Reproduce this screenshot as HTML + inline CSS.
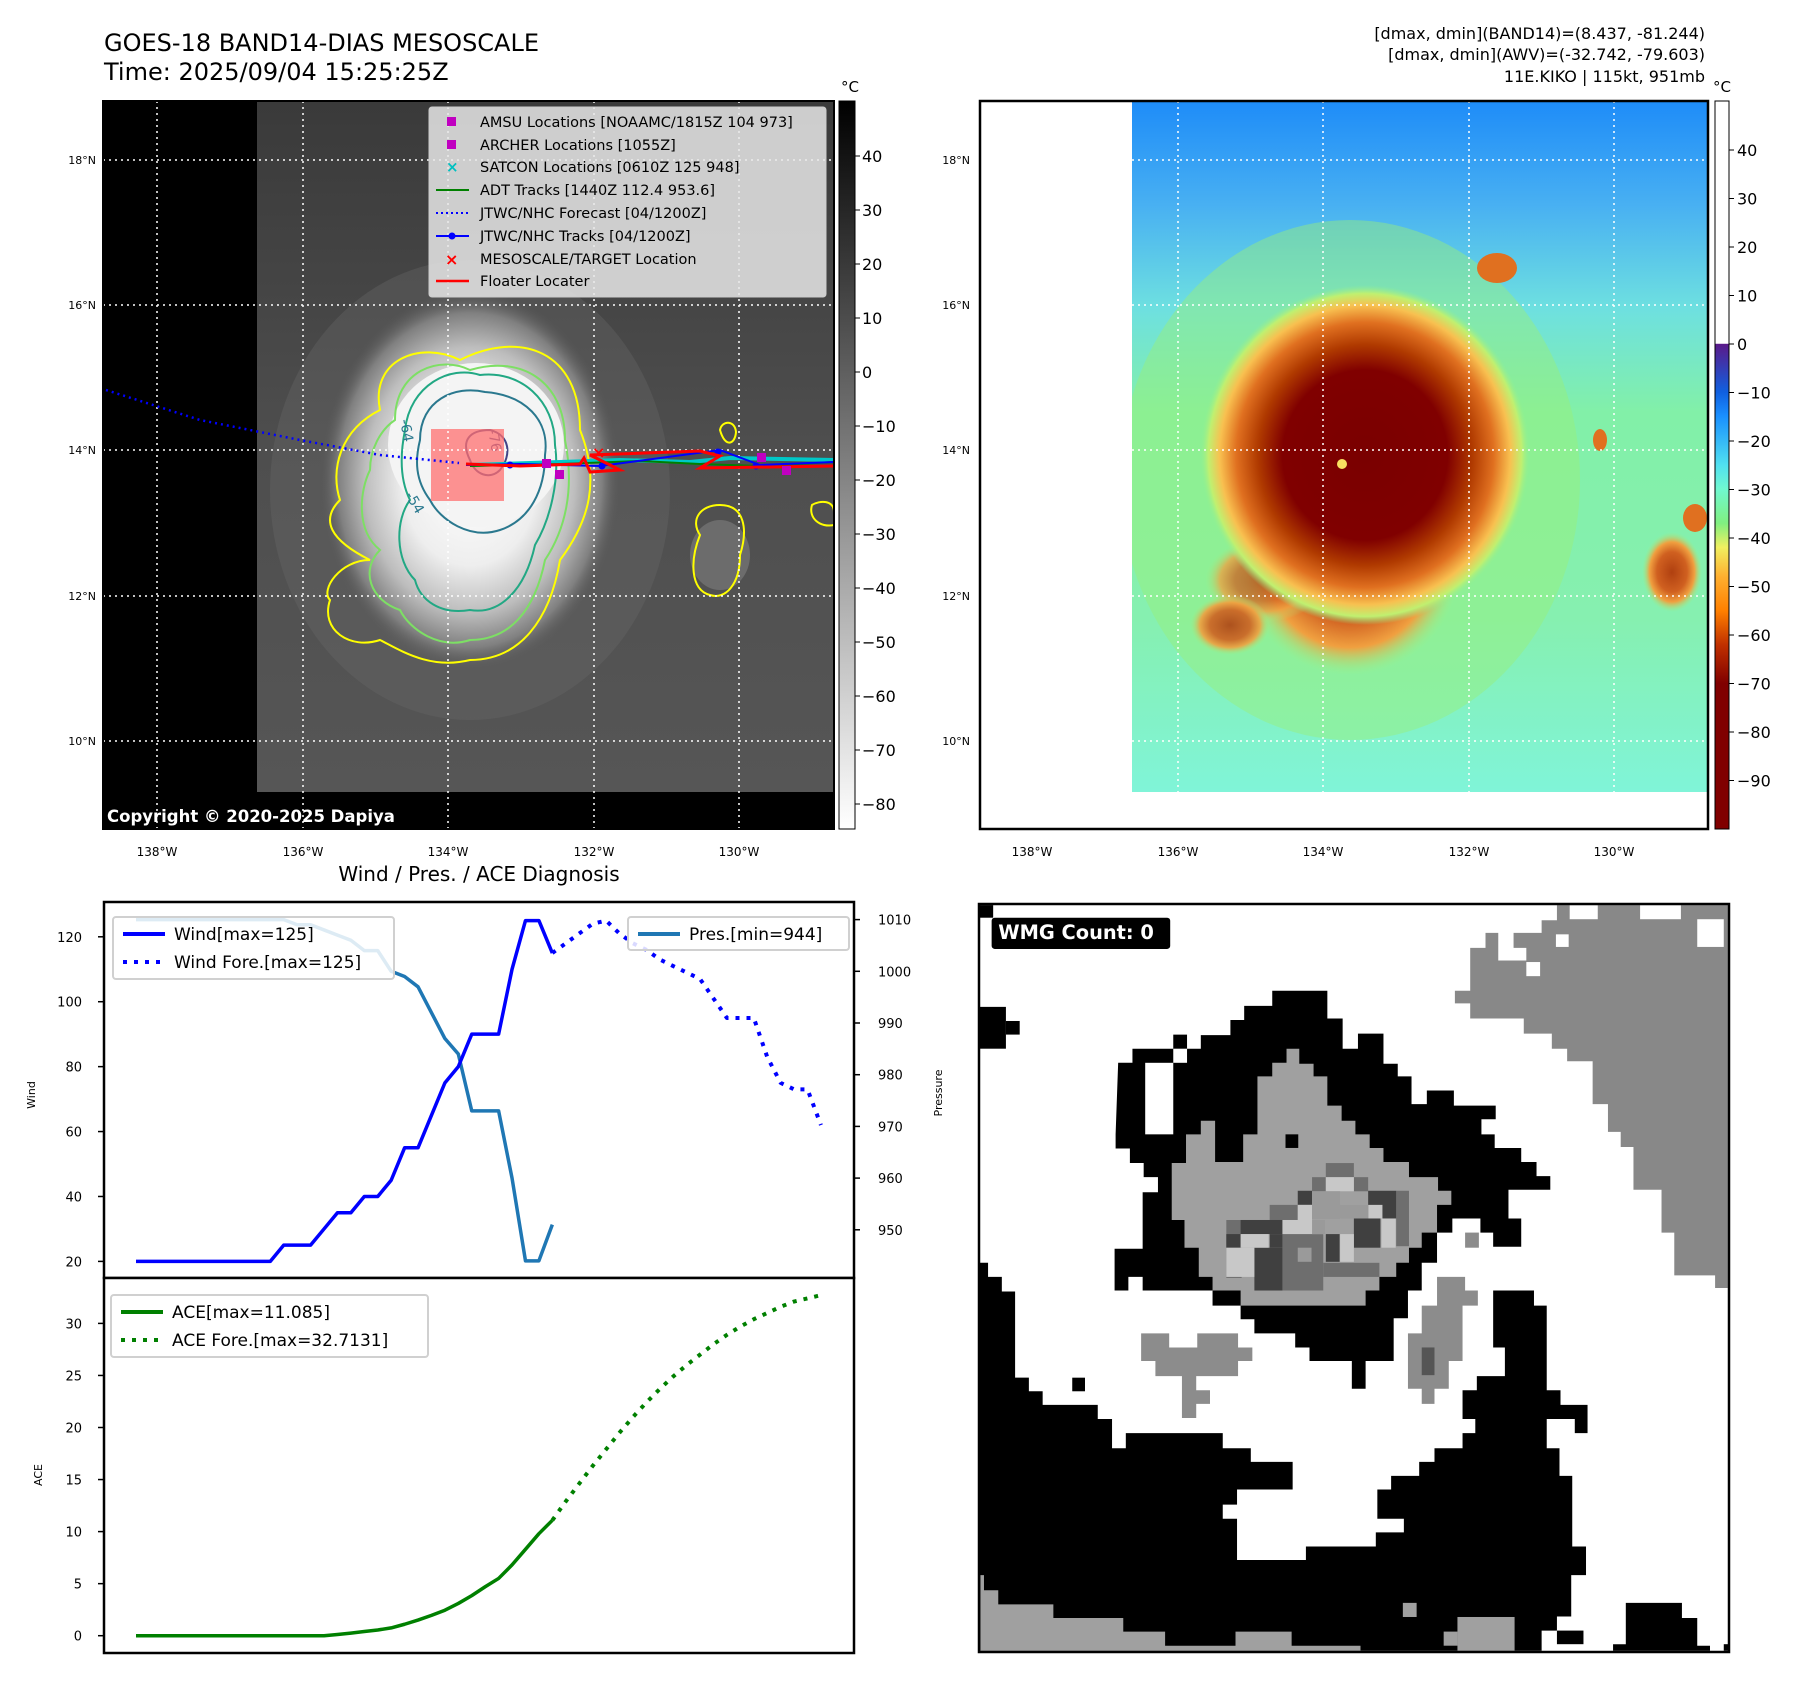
<!DOCTYPE html>
<html><head><meta charset="utf-8">
<style>
html,body{margin:0;padding:0;background:#fff;}
body{width:1797px;height:1690px;overflow:hidden;font-family:"Liberation Sans","DejaVu Sans",sans-serif;}
svg text{font-family:"DejaVu Sans","Liberation Sans",sans-serif;}
</style></head>
<body>
<svg id="page" width="1797" height="1690" viewBox="0 0 1797 1690" xmlns="http://www.w3.org/2000/svg">
<defs>
  <clipPath id="clipL"><rect x="257" y="101" width="577" height="691"/></clipPath>
  <clipPath id="clipR"><rect x="1132" y="101" width="576" height="691"/></clipPath>
  <radialGradient id="gcore" cx="0.5" cy="0.5" r="0.5">
    <stop offset="0" stop-color="#ffffff"/>
    <stop offset="0.45" stop-color="#eeeeee"/>
    <stop offset="0.7" stop-color="#bdbdbd"/>
    <stop offset="0.88" stop-color="#808080"/>
    <stop offset="1" stop-color="#5a5a5a" stop-opacity="0"/>
  </radialGradient>
  <linearGradient id="gbg" x1="0" y1="0" x2="0" y2="1">
    <stop offset="0" stop-color="#3a3a3a"/>
    <stop offset="0.5" stop-color="#4e4e4e"/>
    <stop offset="1" stop-color="#565656"/>
  </linearGradient>
  <linearGradient id="cbL" x1="0" y1="0" x2="0" y2="1">
    <stop offset="0" stop-color="#000"/><stop offset="1" stop-color="#fff"/>
  </linearGradient>
  <linearGradient id="cbR" x1="0" y1="0" x2="0" y2="1">
    <stop offset="0" stop-color="#fff"/><stop offset="0.333" stop-color="#fff"/>
    <stop offset="0.334" stop-color="#5a1a8a"/><stop offset="0.40" stop-color="#1060e0"/>
    <stop offset="0.433" stop-color="#1a90ff"/><stop offset="0.50" stop-color="#50e0f0"/>
    <stop offset="0.533" stop-color="#70f8d0"/><stop offset="0.58" stop-color="#80f080"/>
    <stop offset="0.613" stop-color="#f0f060"/><stop offset="0.653" stop-color="#ffb030"/>
    <stop offset="0.70" stop-color="#ff8000"/><stop offset="0.747" stop-color="#c03000"/>
    <stop offset="0.80" stop-color="#800000"/><stop offset="1" stop-color="#800000"/>
  </linearGradient>
  <linearGradient id="rbg" x1="0" y1="0" x2="0" y2="1">
    <stop offset="0" stop-color="#1e8cf8"/><stop offset="0.15" stop-color="#48b0f2"/>
    <stop offset="0.3" stop-color="#6ee0e0"/><stop offset="0.45" stop-color="#82f0a8"/>
    <stop offset="0.75" stop-color="#86f0b0"/><stop offset="1" stop-color="#80f4d8"/>
  </linearGradient>
  <radialGradient id="rcore" cx="0.5" cy="0.5" r="0.5">
    <stop offset="0" stop-color="#7a0000"/><stop offset="0.5" stop-color="#800000"/>
    <stop offset="0.65" stop-color="#b03a00"/><stop offset="0.78" stop-color="#e07020"/>
    <stop offset="0.88" stop-color="#f8c050"/><stop offset="0.95" stop-color="#c0f070"/>
    <stop offset="1" stop-color="#90f090" stop-opacity="0"/>
  </radialGradient>
  <radialGradient id="rtail" cx="0.5" cy="0.5" r="0.5">
    <stop offset="0" stop-color="#b04010"/><stop offset="0.5" stop-color="#d06020"/>
    <stop offset="0.75" stop-color="#f0a040"/><stop offset="1" stop-color="#a0f080" stop-opacity="0"/>
  </radialGradient>
</defs>

<text x="104" y="51" font-size="24">GOES-18 BAND14-DIAS MESOSCALE</text>
<text x="104" y="80" font-size="24">Time: 2025/09/04 15:25:25Z</text>
<g font-size="16" text-anchor="end">
  <text x="1705" y="39">[dmax, dmin](BAND14)=(8.437, -81.244)</text>
  <text x="1705" y="60">[dmax, dmin](AWV)=(-32.742, -79.603)</text>
  <text x="1705" y="82">11E.KIKO | 115kt, 951mb</text>
</g>

<!-- LEFT MAP -->
<g>
  <rect x="103" y="101" width="731" height="728" fill="#000"/>
  <rect x="257" y="101" width="577" height="691" fill="url(#gbg)"/>
  <g clip-path="url(#clipL)">
    <ellipse cx="470" cy="490" rx="200" ry="230" fill="#6a6a6a" opacity="0.35"/>
    <ellipse cx="470" cy="480" rx="150" ry="190" fill="url(#gcore)"/>
    <ellipse cx="476" cy="445" rx="88" ry="82" fill="#f4f4f4"/>
    <ellipse cx="720" cy="555" rx="30" ry="35" fill="#888" opacity="0.5"/>
  </g>
  <g fill="none" stroke-width="2">
    <path d="M380,410 C370,360 420,340 460,360 C520,330 580,350 580,430 C600,480 590,520 560,560 C550,620 520,660 470,660 C430,670 400,650 380,640 C350,650 320,630 330,600 C320,590 340,560 370,560 C330,540 320,520 340,500 C330,470 340,430 380,410 Z" stroke="#ffff00"/>
    <path d="M395,420 C395,370 440,355 470,370 C520,355 565,380 565,440 C575,490 565,530 545,560 C535,610 510,640 470,640 C440,650 410,630 400,610 C370,600 360,570 380,550 C355,530 360,490 370,470 C370,450 380,430 395,420 Z" stroke="#7ddf64"/>
    <path d="M405,430 C410,385 450,365 480,375 C520,370 555,400 555,445 C560,480 550,520 535,545 C525,590 500,615 470,610 C440,615 420,600 415,580 C395,560 395,520 410,500 C400,480 400,455 405,430 Z" stroke="#22a884"/>
    <path d="M420,440 C420,400 455,385 485,392 C525,395 550,420 545,455 C545,490 530,520 500,530 C470,540 440,520 430,500 C415,480 415,460 420,440 Z" stroke="#2a788e"/>
    <path d="M470,460 C460,440 470,430 490,430 C510,435 512,455 500,470 C490,480 475,475 470,460 Z" stroke="#414487"/>
    <path d="M700,535 C690,520 700,505 720,505 C745,505 748,530 740,555 C740,585 725,600 710,595 C690,590 690,560 700,535 Z" stroke="#ffff00"/>
    <path d="M720,430 C722,420 735,420 736,432 C735,445 725,448 720,430 Z" stroke="#ffff00"/>
    <path d="M812,505 C820,500 834,500 834,512 L834,525 C820,528 808,518 812,505 Z" stroke="#ffff00"/>
  </g>
  <text x="400" y="420" font-size="14" fill="#2a788e" transform="rotate(80 400 420)">-64</text>
  <text x="488" y="430" font-size="14" fill="#414487" transform="rotate(80 488 430)">-76</text>
  <text x="405" y="495" font-size="14" fill="#2a788e" transform="rotate(60 405 495)">-54</text>
  <rect x="431" y="429" width="73" height="72" fill="#ff7070" opacity="0.75"/>
  <g stroke="#fff" stroke-width="1.5" stroke-dasharray="2,4">
    <line x1="103" y1="160" x2="834" y2="160"/><line x1="103" y1="305" x2="834" y2="305"/>
    <line x1="103" y1="450" x2="834" y2="450"/><line x1="103" y1="596" x2="834" y2="596"/>
    <line x1="103" y1="741" x2="834" y2="741"/>
    <line x1="157" y1="101" x2="157" y2="829"/><line x1="303" y1="101" x2="303" y2="829"/>
    <line x1="448" y1="101" x2="448" y2="829"/><line x1="594" y1="101" x2="594" y2="829"/>
    <line x1="739" y1="101" x2="739" y2="829"/>
  </g>
  <polyline points="106,390 200,420 300,440 380,455 459,463" fill="none" stroke="#0000ff" stroke-width="2.5" stroke-dasharray="2,4"/>
  <polyline points="470,465 560,462 620,460 690,462 730,458 834,460" fill="none" stroke="#00c8c8" stroke-width="4"/>
  <polyline points="470,466 560,464 640,461 700,464 760,466 834,462" fill="none" stroke="#008000" stroke-width="2"/>
  <polyline points="466,465 520,464 600,466 720,450 760,465 834,462" fill="none" stroke="#0000ff" stroke-width="2"/>
  <g fill="#0000ff"><circle cx="510" cy="465" r="3.5"/><circle cx="602" cy="466" r="3.5"/><circle cx="718" cy="452" r="3.5"/><circle cx="756" cy="466" r="3.5"/></g>
  <polyline points="466,464 520,466 580,464 584,458 590,472 620,470 590,455 700,451 720,456 700,468 834,466" fill="none" stroke="#ff0000" stroke-width="3"/>
  <g fill="#c000c0"><rect x="542" y="459" width="9" height="9"/><rect x="555" y="470" width="9" height="9"/><rect x="757" y="453" width="9" height="9"/><rect x="782" y="466" width="9" height="9"/></g>
  <text x="592" y="458" font-size="16" fill="#ff0000" font-weight="bold">×</text>
  <rect x="103" y="101" width="731" height="728" fill="none" stroke="#000" stroke-width="2"/>
  <g>
    <rect x="429" y="107" width="397" height="190" rx="3" fill="#e8e8e8" fill-opacity="0.85" stroke="#ccc"/>
    <g font-size="14.5" fill="#000">
      <rect x="447" y="117" width="9" height="9" fill="#c000c0"/><text x="480" y="127">AMSU Locations [NOAAMC/1815Z 104 973]</text>
      <rect x="447" y="140" width="9" height="9" fill="#c000c0"/><text x="480" y="150">ARCHER Locations [1055Z]</text>
      <text x="446" y="172" fill="#00c0c0" font-weight="bold" font-size="15">×</text><text x="480" y="172">SATCON Locations [0610Z 125 948]</text>
      <line x1="436" y1="190" x2="469" y2="190" stroke="#008000" stroke-width="2"/><text x="480" y="195">ADT Tracks [1440Z 112.4 953.6]</text>
      <line x1="436" y1="213" x2="469" y2="213" stroke="#0000ff" stroke-width="2" stroke-dasharray="2,3"/><text x="480" y="218">JTWC/NHC Forecast [04/1200Z]</text>
      <line x1="436" y1="236" x2="469" y2="236" stroke="#0000ff" stroke-width="2"/><circle cx="452" cy="236" r="3.5" fill="#0000ff"/><text x="480" y="241">JTWC/NHC Tracks [04/1200Z]</text>
      <text x="445" y="265" fill="#ff0000" font-weight="bold" font-size="16">×</text><text x="480" y="264">MESOSCALE/TARGET Location</text>
      <line x1="436" y1="281" x2="469" y2="281" stroke="#ff0000" stroke-width="2.5"/><text x="480" y="286">Floater Locater</text>
    </g>
  </g>
  <text x="107" y="822" font-size="16.5" font-weight="bold" fill="#fff">Copyright © 2020-2025 Dapiya</text>
</g>
<g font-size="11" text-anchor="end">
  <text x="96" y="164">18°N</text><text x="96" y="309">16°N</text><text x="96" y="454">14°N</text><text x="96" y="600">12°N</text><text x="96" y="745">10°N</text>
</g>
<g font-size="12" text-anchor="middle">
  <text x="157" y="856">138°W</text><text x="303" y="856">136°W</text><text x="448" y="856">134°W</text><text x="594" y="856">132°W</text><text x="739" y="856">130°W</text>
</g>
<g>
  <rect x="839" y="101" width="16" height="728" fill="url(#cbL)" stroke="#000" stroke-width="1"/>
  <text x="850" y="92" font-size="15" text-anchor="middle">°C</text>
  <g id="cbLticks" font-size="16"></g>
</g>

<!-- RIGHT MAP -->
<g>
  <rect x="980" y="101" width="728" height="728" fill="#fff"/>
  <rect x="1132" y="101" width="576" height="691" fill="url(#rbg)"/>
  <g clip-path="url(#clipR)">
    <ellipse cx="1350" cy="480" rx="230" ry="260" fill="#98f078" opacity="0.45"/>
    <ellipse cx="1350" cy="565" rx="110" ry="110" fill="url(#rtail)"/>
    <ellipse cx="1265" cy="580" rx="60" ry="42" fill="url(#rtail)" opacity="0.75"/>
    <ellipse cx="1365" cy="455" rx="165" ry="170" fill="url(#rcore)"/>
    <ellipse cx="1230" cy="625" rx="40" ry="30" fill="url(#rtail)" opacity="0.9"/>
    <ellipse cx="1497" cy="268" rx="20" ry="15" fill="#e07020"/>
    <ellipse cx="1672" cy="572" rx="30" ry="40" fill="url(#rtail)"/>
    <ellipse cx="1600" cy="440" rx="7" ry="11" fill="#e07020"/>
    <ellipse cx="1695" cy="518" rx="12" ry="14" fill="#e07020"/>
    <circle cx="1342" cy="464" r="5" fill="#f8e060"/>
  </g>
  <g stroke="#fff" stroke-width="1.5" stroke-dasharray="2,4">
    <line x1="1132" y1="160" x2="1708" y2="160"/><line x1="1132" y1="305" x2="1708" y2="305"/>
    <line x1="1132" y1="450" x2="1708" y2="450"/><line x1="1132" y1="596" x2="1708" y2="596"/>
    <line x1="1132" y1="741" x2="1708" y2="741"/>
    <line x1="1178" y1="101" x2="1178" y2="792"/><line x1="1323" y1="101" x2="1323" y2="792"/>
    <line x1="1469" y1="101" x2="1469" y2="792"/><line x1="1614" y1="101" x2="1614" y2="792"/>
  </g>
  <rect x="980" y="101" width="728" height="728" fill="none" stroke="#000" stroke-width="2.5"/>
</g>
<g font-size="11" text-anchor="end">
  <text x="970" y="164">18°N</text><text x="970" y="309">16°N</text><text x="970" y="454">14°N</text><text x="970" y="600">12°N</text><text x="970" y="745">10°N</text>
</g>
<g font-size="12" text-anchor="middle">
  <text x="1032" y="856">138°W</text><text x="1178" y="856">136°W</text><text x="1323" y="856">134°W</text><text x="1469" y="856">132°W</text><text x="1614" y="856">130°W</text>
</g>
<g>
  <rect x="1715" y="101" width="14" height="728" fill="url(#cbR)" stroke="#000" stroke-width="1"/>
  <text x="1722" y="92" font-size="15" text-anchor="middle">°C</text>
  <g id="cbRticks" font-size="16"></g>
</g>

<text x="479" y="881" font-size="20" text-anchor="middle">Wind / Pres. / ACE Diagnosis</text>
<g id="diag"></g>

<!-- WMG -->
<g>
  <rect x="979" y="904" width="750" height="748" fill="#fff"/>
  <g transform="translate(960,890) scale(0.5102,0.5038)">
    <polygon fill="#888" points="1170,30 1505,30 1505,790 1480,790 1480,765 1400,765 1400,680 1375,680 1375,595 1320,595 1320,510 1295,510 1295,480 1270,480 1270,425 1240,425 1240,340 1190,340 1190,315 1160,315 1160,285 1105,285 1105,255 1000,255 1000,225 970,225 970,200 1000,200 1000,115 1030,115 1030,85 1055,85 1055,140 1110,140 1110,115 1085,115 1085,85 1140,85 1140,60 1170,60"/>
    <rect x="1195" y="30" width="55" height="28" fill="#fff"/><rect x="1333" y="30" width="80" height="28" fill="#fff"/>
    <rect x="1445" y="58" width="52" height="55" fill="#fff"/><rect x="1168" y="88" width="25" height="25" fill="#fff"/><rect x="1110" y="143" width="27" height="28" fill="#fff"/>
    <polygon fill="#000" points="640,200 720,200 720,255 750,255 750,315 780,315 780,285 830,285 830,345 858,345 858,370 885,370 885,425 915,425 915,398 968,398 968,428 1050,428 1050,455 1022,455 1022,485 1048,485 1048,512 1100,512 1100,540 1130,540 1130,568 1157,568 1157,595 1075,595 1075,652 1100,652 1100,708 1045,708 1045,680 1020,680 1020,652 965,652 965,680 935,680 935,740 905,740 905,795 878,795 878,850 850,850 850,935 795,935 795,990 768,990 768,935 685,935 685,908 657,908 657,880 577,880 577,852 550,852 550,825 495,825 495,795 358,795 358,768 330,768 330,795 303,795 303,712 358,712 358,600 388,600 388,570 360,570 360,542 333,542 333,513 305,513 305,485 310,343 338,343 338,315 418,315 418,287 445,287 445,315 472,315 472,288 530,288 530,258 557,258 557,230 612,230 612,200"/>
    <rect x="363" y="343" width="55" height="142" fill="#fff"/>
    <rect x="418" y="315" width="27" height="28" fill="#fff"/>
    <polygon fill="#a0a0a0" points="640,315 665,315 665,345 693,345 693,370 720,370 720,428 748,428 748,458 775,458 775,485 803,485 803,512 830,512 830,540 880,540 880,570 937,570 937,597 963,597 963,625 935,625 935,680 905,680 905,710 880,710 880,740 855,740 855,768 822,768 822,795 795,795 795,825 550,825 550,795 495,795 495,768 468,768 468,710 440,710 440,655 415,655 415,542 443,542 443,485 472,485 472,458 500,458 500,540 555,540 555,485 583,485 583,370 612,370 612,343 640,343"/>
    <rect x="638" y="485" width="25" height="27" fill="#000"/>
    <g fill="#6e6e6e"><rect x="717" y="542" width="55" height="28"/><rect x="607" y="625" width="55" height="30"/><rect x="522" y="655" width="30" height="115"/><rect x="632" y="680" width="80" height="115"/><rect x="712" y="740" width="110" height="28"/><rect x="855" y="597" width="25" height="110"/><rect x="690" y="570" width="27" height="28"/><rect x="772" y="570" width="28" height="28"/></g>
    <g fill="#404040"><rect x="550" y="655" width="82" height="28"/><rect x="522" y="683" width="28" height="27"/><rect x="577" y="710" width="55" height="85"/><rect x="662" y="597" width="28" height="28"/><rect x="800" y="597" width="55" height="55"/><rect x="772" y="652" width="52" height="58"/><rect x="717" y="683" width="27" height="55"/><rect x="607" y="683" width="25" height="27"/></g>
    <g fill="#c8c8c8"><rect x="717" y="570" width="55" height="28"/><rect x="662" y="625" width="28" height="30"/><rect x="632" y="655" width="85" height="28"/><rect x="550" y="683" width="55" height="27"/><rect x="522" y="710" width="55" height="58"/><rect x="745" y="683" width="27" height="55"/><rect x="800" y="625" width="28" height="27"/><rect x="826" y="652" width="28" height="58"/></g>
    <g fill="#9a9a9a"><rect x="690" y="598" width="55" height="55"/><rect x="690" y="655" width="27" height="28"/><rect x="662" y="710" width="27" height="28"/><rect x="745" y="625" width="55" height="27"/></g>
    <polygon fill="#000" points="37,740 55,740 55,768 82,768 82,797 108,797 108,968 135,968 135,995 162,995 162,1022 270,1022 270,1050 298,1050 298,1108 325,1108 325,1078 515,1078 515,1108 570,1108 570,1135 652,1135 652,1190 543,1190 543,1220 515,1220 515,1248 543,1248 543,1330 678,1330 678,1303 815,1303 815,1275 870,1275 870,1248 818,1248 818,1190 845,1190 845,1163 900,1163 900,1135 930,1135 930,1108 985,1108 985,1078 1010,1078 1010,1050 985,1050 985,993 1013,993 1013,965 1068,965 1068,908 1045,908 1045,795 1125,795 1125,825 1150,825 1150,993 1177,993 1177,1022 1230,1022 1230,1078 1205,1078 1205,1050 1150,1050 1150,1108 1175,1108 1175,1163 1200,1163 1200,1303 1227,1303 1227,1360 1198,1360 1198,1442 1170,1442 1170,1470 1140,1470 1140,1510 37,1510"/>
    <polygon fill="#000" points="1305,1415 1415,1415 1415,1445 1445,1445 1445,1500 1470,1500 1470,1510 1280,1510 1280,1497 1305,1497"/>
    <rect x="1170" y="1470" width="52" height="27" fill="#000"/><rect x="1497" y="1497" width="10" height="13" fill="#000"/>
    <polygon fill="#a0a0a0" points="40,1360 47,1360 47,1390 75,1390 75,1418 183,1418 183,1445 320,1445 320,1472 402,1472 402,1500 540,1500 540,1472 650,1472 650,1500 785,1500 785,1510 40,1510"/>
    <rect x="975" y="1443" width="112" height="67" fill="#a0a0a0"/><rect x="948" y="1472" width="27" height="28" fill="#a0a0a0"/>
    <rect x="868" y="1415" width="27" height="28" fill="#a0a0a0"/>
    <rect x="37" y="30" width="28" height="25" fill="#000"/>
    <rect x="37" y="232" width="53" height="83" fill="#000"/><rect x="90" y="260" width="27" height="27" fill="#000"/>
    <polygon fill="#8c8c8c" points="355,880 410,880 410,908 465,908 465,880 545,880 545,908 573,908 573,935 545,935 545,965 463,965 463,993 490,993 490,1020 463,1020 463,1048 435,1048 435,965 383,965 383,935 355,935"/>
    <polygon fill="#8c8c8c" points="935,768 990,768 990,795 1015,795 1015,825 985,825 985,935 958,935 958,990 930,990 930,1020 905,1020 905,990 878,990 878,880 905,880 905,825 935,825"/>
    <rect x="905" y="908" width="25" height="55" fill="#555"/>
    <rect x="220" y="968" width="25" height="27" fill="#000"/>
    <rect x="990" y="680" width="27" height="30" fill="#8c8c8c"/>
    <rect x="62" y="55" width="350" height="62" rx="6" fill="#000"/>
    <text x="75" y="97" font-size="38" font-weight="bold" fill="#fff">WMG Count: 0</text>
  </g>
  <rect x="979" y="904" width="750" height="748" fill="none" stroke="#000" stroke-width="2.5"/>
</g>
</svg>

<script>
// ---- Diagnosis chart data ----
const windObs = [20,20,20,20,20,20,20,20,20,20,20,25,25,25,30,35,35,40,40,45,55,55,65,75,80,90,90,90,110,125,125,115];
const windFore = [115,118,121,124,125,121,118,116,113,111,109,107,101,95,95,95,83,75,73,73,62];
const presObs = [1010,1010,1010,1010,1010,1010,1010,1010,1010,1010,1010,1010,1009,1009,1008,1007,1006,1004,1004,1000,999,997,992,987,984,973,973,973,960,944,944,951];
const aceObs = [0,0,0,0,0,0,0,0,0,0,0,0,0,0,0,0.12,0.25,0.4,0.55,0.75,1.1,1.5,1.95,2.45,3.1,3.85,4.7,5.5,6.8,8.3,9.8,11.085];
const aceFore = [11.085,12.9,14.6,16.3,17.9,19.5,21,22.4,23.7,24.9,26,27,28,28.9,29.7,30.4,31,31.6,32.1,32.4,32.7131];
const windTicks = [20,40,60,80,100,120];
const presTicks = [950,960,970,980,990,1000,1010];
const aceTicks = [0,5,10,15,20,25,30];
const cbLeftTicks = [40,30,20,10,0,-10,-20,-30,-40,-50,-60,-70,-80];
const cbRightTicks = [40,30,20,10,0,-10,-20,-30,-40,-50,-60,-70,-80,-90];

const NS = 'http://www.w3.org/2000/svg';
const foreStart = windObs.length - 1;
function xS(i){ return 136 + i*13.43; }
function windY(v){ return 1261.4 - (v-20)*3.246; }
function presY(p){ return 919.6 + (1010-p)*5.17; }
function aceY(a){ return 1635.7 - a*10.41; }
function mk(tag, attrs, parent){ const e=document.createElementNS(NS,tag); for(const k in attrs) e.setAttribute(k,attrs[k]); parent.appendChild(e); return e; }
function fmt(v){ return v<0 ? '\u2212'+Math.abs(v) : String(v); }

const diag = document.getElementById('diag');
let f1 = mk('rect',{x:104,y:902,width:750,height:376,fill:'#fff',stroke:'#000','stroke-width':2.5},diag);


let f2 = mk('rect',{x:104,y:1278,width:750,height:375,fill:'#fff',stroke:'#000','stroke-width':2.5},diag);



function line(pts, color, w, dash, name){
  const p = mk('polyline',{points:pts.join(' '),fill:'none',stroke:color,'stroke-width':w,'stroke-linejoin':'round'},diag);
  if(dash) p.setAttribute('stroke-dasharray',dash);
  
  
}
line(presObs.map((v,i)=>xS(i)+','+presY(v)), '#1f77b4', 3.5, null, 'pressure-line');
line(windObs.map((v,i)=>xS(i)+','+windY(v)), '#0000ff', 3.5, null, 'wind-line');
line(windFore.map((v,i)=>xS(i+foreStart)+','+windY(v)), '#0000ff', 4, '4,7', 'wind-forecast-line');
line(aceObs.map((v,i)=>xS(i)+','+aceY(v)), '#008000', 3.5, null, 'ace-line');
line(aceFore.map((v,i)=>xS(i+foreStart)+','+aceY(v)), '#008000', 4, '4,7', 'ace-forecast-line');

function tick(x1,y,x2,label,lx,anchor,name){
  mk('line',{x1:x1,y1:y,x2:x2,y2:y,stroke:'#000','stroke-width':1.5},diag);
  const t = mk('text',{x:lx,y:y+5,'font-size':13,'text-anchor':anchor},diag);
  t.textContent = label;
  
  
}
windTicks.forEach(v=>tick(98,windY(v),104,v,82,'end','wind-tick-label'));
presTicks.forEach(v=>tick(854,presY(v),860,v,878,'start','pressure-tick-label'));
aceTicks.forEach(v=>tick(98,aceY(v),104,v,82,'end','ace-tick-label'));

function txt(x,y,s,size,rot,name){
  const t = mk('text',{x:x,y:y,'font-size':size,'text-anchor':'middle'},diag);
  if(rot) t.setAttribute('transform','rotate(-90 '+x+' '+y+')');
  t.textContent = s;
  
  
}
txt(35,1095,'Wind',11,true,'wind-axis-title');
txt(942,1093,'Pressure',11,true,'pressure-axis-title');
txt(42,1475,'ACE',11,true,'ace-axis-title');

function legend(x,y,w,h,items,name){
  const g = mk('g',{},diag);
  
  
  mk('rect',{x:x,y:y,width:w,height:h,rx:3,fill:'#fff','fill-opacity':0.85,stroke:'#d0d0d0','stroke-width':2},g);
  items.forEach((it,k)=>{
    const yy = y+17+k*28;
    const l = mk('line',{x1:x+10,y1:yy,x2:x+52,y2:yy,stroke:it.c,'stroke-width':4},g);
    if(it.d) l.setAttribute('stroke-dasharray','4,7');
    const t = mk('text',{x:x+61,y:yy+6,'font-size':17},g);
    t.textContent = it.t;
  });
}
legend(113,917,281,62,[{c:'#0000ff',t:'Wind[max=125]'},{c:'#0000ff',t:'Wind Fore.[max=125]',d:1}],'wind-legend');
legend(628,917,221,33,[{c:'#1f77b4',t:'Pres.[min=944]'}],'pressure-legend');
legend(111,1295,317,62,[{c:'#008000',t:'ACE[max=11.085]'},{c:'#008000',t:'ACE Fore.[max=32.7131]',d:1}],'ace-legend');

const gl = document.getElementById('cbLticks');
cbLeftTicks.forEach(v=>{
  const y = 156 + (40-v)*5.4;
  mk('line',{x1:855,y1:y,x2:860,y2:y,stroke:'#000','stroke-width':1},gl);
  const t = mk('text',{x:862,y:y+6},gl); t.textContent = fmt(v);
});
const gr = document.getElementById('cbRticks');
cbRightTicks.forEach(v=>{
  const y = 344 - v*4.85;
  mk('line',{x1:1729,y1:y,x2:1734,y2:y,stroke:'#000','stroke-width':1},gr);
  const t = mk('text',{x:1737,y:y+6},gr); t.textContent = fmt(v);
});
</script>
</body></html>
